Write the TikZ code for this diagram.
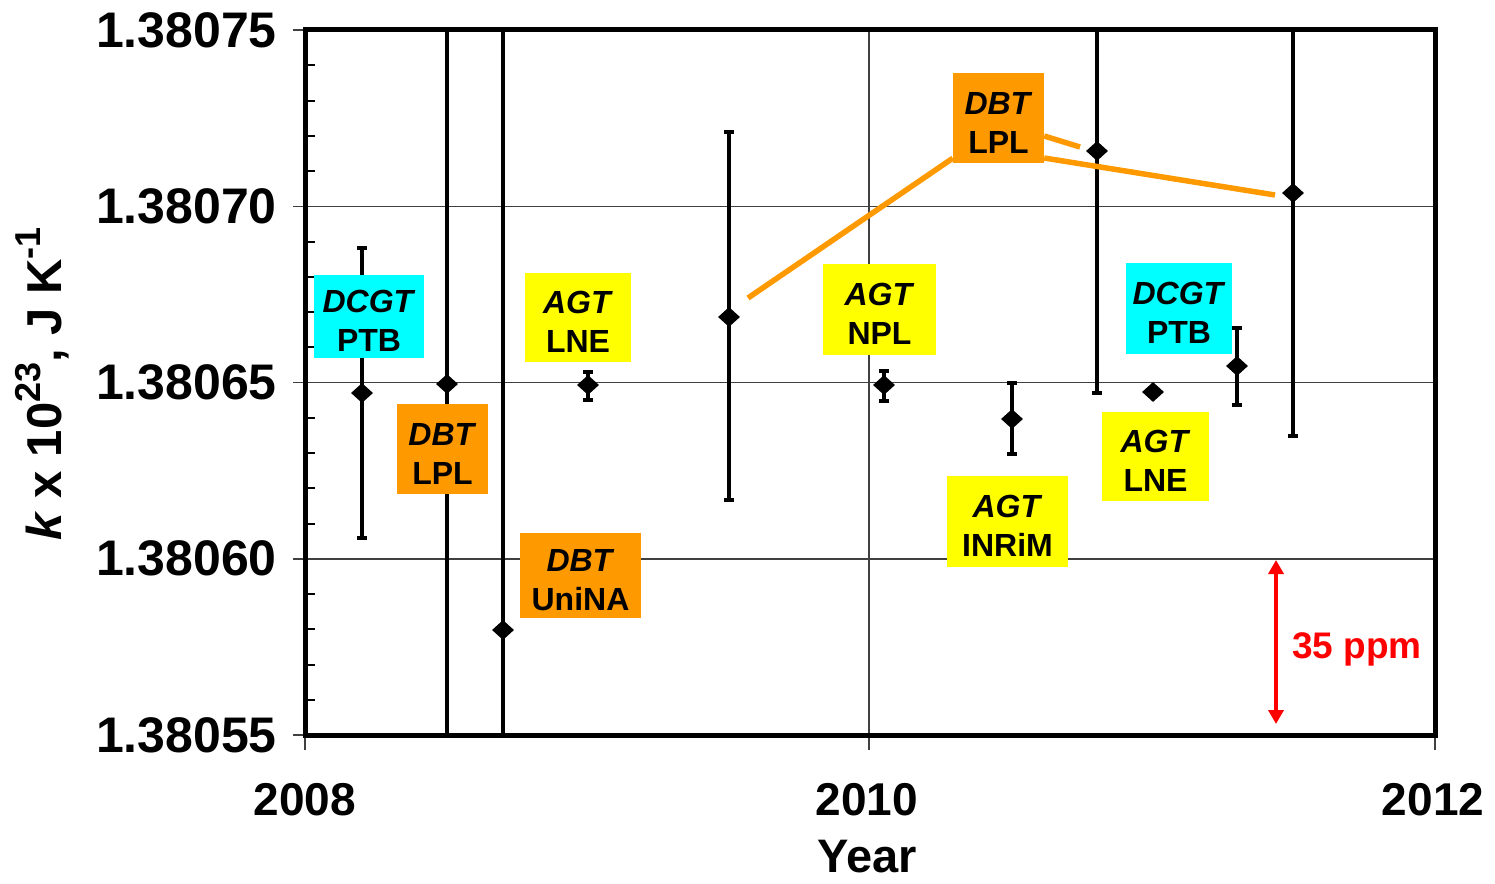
\documentclass[tikz,border=0pt]{standalone}
\usepackage{fontspec}
\setmainfont{Liberation Sans}
\usetikzlibrary{shapes.geometric,arrows.meta}
\definecolor{dbt}{HTML}{FF9900}
\definecolor{agt}{HTML}{FFFF00}
\definecolor{dcgt}{HTML}{00FFFF}
\definecolor{gridc}{HTML}{404040}
\definecolor{ppmred}{HTML}{FF0000}
\newcommand{\fsz}[1]{\fontsize{#1}{#1}\selectfont\bfseries}
\newcommand{\mysup}[1]{\raisebox{0.42em}{\fontsize{36}{36}\selectfont\bfseries #1}}
\newcommand{\twol}[2]{\rule{0pt}{31pt}\textit{#1}\\#2}
\begin{document}
\begin{tikzpicture}[x=1pt,y=-1pt,
  gridl/.style={line width=1.5pt, draw=gridc},
  framel/.style={line width=5pt, draw=black},
  minort/.style={line width=2pt, draw=black},
  ebar/.style={line width=3.5pt, draw=black},
  ecap/.style={line width=4pt, draw=black},
  mk/.style={diamond, fill=black, inner sep=0pt, minimum width=22pt, minimum height=20pt},
  lbl/.style={inner sep=0pt, align=center, font=\fontsize{32}{39}\selectfont\bfseries},
  fitl/.style={line width=5.5pt, draw=dbt},
  ticklab/.style={font=\fsz{50}, inner sep=0pt},
  xlab/.style={font=\fsz{46}, inner sep=0pt, anchor=base},
]
\useasboundingbox (0,0) rectangle (1495,883);
% grid and ticks
\foreach \yy in {206.25,382.5,558.75} \draw[gridl] (293,\yy) -- (1435,\yy);
\draw[gridl] (869,30) -- (869,750);
\draw[gridl] (293,30) -- (305,30);
\draw[gridl] (293,735) -- (305,735);
\draw[gridl] (305,735) -- (305,750);
\draw[gridl] (1435,735) -- (1435,750);
\foreach \k in {1,2,3,4,6,7,8,9,11,12,13,14,16,17,18,19}
  \draw[minort] (305,{30+\k*35.25}) -- (315,{30+\k*35.25});
% error bars with both caps
\foreach \xx/\tt/\bb in {362/248/538, 588/372/400, 729/132/500, 884/371/401, 1012/383/454, 1237/328/405}{
  \draw[ebar] (\xx,\tt) -- (\xx,\bb);
  \draw[ecap] ({\xx-5},\tt) -- ({\xx+5},\tt);
  \draw[ecap] ({\xx-5},\bb) -- ({\xx+5},\bb);
}
% bottom cap only
\foreach \xx/\bb in {1097/393, 1293/436}{
  \draw[ebar] (\xx,30) -- (\xx,\bb);
  \draw[ecap] ({\xx-5},\bb) -- ({\xx+5},\bb);
}
% full range
\foreach \xx in {447,503} \draw[ebar] (\xx,30) -- (\xx,735);
% data points
\node[mk] (p1) at (362,393) {};
\node[mk] (p2) at (447,384) {};
\node[mk] (p3) at (503,630) {};
\node[mk] (p4) at (588,385) {};
\node[mk] (p5) at (729,317) {};
\node[mk] (p6) at (884,385) {};
\node[mk] (p7) at (1012,419) {};
\node[mk] (p8) at (1097,151) {};
\node[mk] (p9) at (1153,392) {};
\node[mk] (p10) at (1237,366) {};
\node[mk] (p11) at (1293,193) {};
% frame
\draw[framel] (305,30) rectangle (1435,735);
% labels
\node[lbl, fill=dcgt, minimum width=110pt, minimum height=83pt] (dcgt1) at (369,316.5) {\twol{DCGT}{PTB}};
\node[lbl, fill=dbt, minimum width=91pt, minimum height=90pt] (lpl1) at (442.5,449) {\twol{DBT}{LPL}};
\node[lbl, fill=agt, minimum width=106pt, minimum height=89pt] (lne1) at (578,317.5) {\twol{AGT}{LNE}};
\node[lbl, fill=dbt, minimum width=121pt, minimum height=85pt] (unina) at (580.5,575.5) {\twol{DBT}{UniNA}};
\node[lbl, fill=dbt, minimum width=91pt, minimum height=90pt] (lpl2) at (998.5,118) {\twol{DBT}{LPL}};
\node[lbl, fill=agt, minimum width=113pt, minimum height=91pt] (npl) at (879.5,309.5) {\twol{AGT}{NPL}};
\node[lbl, fill=agt, minimum width=121pt, minimum height=91pt] (inrim) at (1007.5,521.5) {\twol{AGT}{INRiM}};
\node[lbl, fill=agt, minimum width=107pt, minimum height=89pt] (lne2) at (1155.5,456.5) {\twol{AGT}{LNE}};
\node[lbl, fill=dcgt, minimum width=106pt, minimum height=91pt] (dcgt2) at (1179,308.5) {\twol{DCGT}{PTB}};
% orange connector lines
\coordinate (f1) at (748,298);
\coordinate (f2) at (1080,147);
\coordinate (f3) at (1275,195);
\draw[fitl] (f1) -- ([yshift=5pt]lpl2.south west);
\draw[fitl] ([yshift=-18pt]lpl2.east) -- (f2);
\draw[fitl] ([yshift=-40pt]lpl2.east) -- (f3);
% 35 ppm arrow
\coordinate (a1) at (1276,560);
\coordinate (a2) at (1276,724);
\draw[line width=3.5pt, draw=ppmred, {Triangle[width=15pt,length=14pt]}-{Triangle[width=15pt,length=14pt]}] (a1) -- (a2);
\node[font=\fsz{37}, text=ppmred, anchor=base west, inner sep=0pt] (ppm) at (1292,658) {35 ppm};
% axis tick labels
\node[ticklab, anchor=east] (y75) at (277,30) {1.38075};
\node[ticklab, anchor=east] (y70) at (277,206.25) {1.38070};
\node[ticklab, anchor=east] (y65) at (277,382.5) {1.38065};
\node[ticklab, anchor=east] (y60) at (277,558.75) {1.38060};
\node[ticklab, anchor=east] (y55) at (277,735) {1.38055};
\node[xlab] (x08) at (305,815) {2008};
\node[xlab] (x10) at (867,815) {2010};
\node[xlab] (x12) at (1433,815) {2012};
\node[font=\fsz{47}, inner sep=0pt, anchor=base] (year) at (867,872) {Year};
\node[font=\fsz{49}, inner sep=0pt, rotate=90] (ylab) at (42,384) {\textit{k} x 10\mysup{23}, J K\mysup{-1}};
\end{tikzpicture}
\end{document}
